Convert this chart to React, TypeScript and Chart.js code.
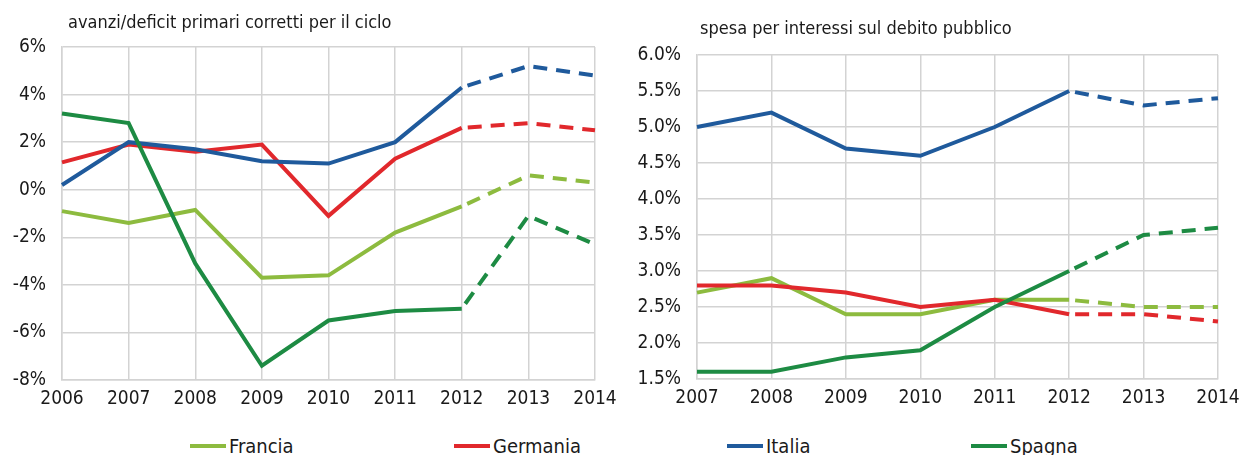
import React, { useEffect, useRef } from "react";
import { Chart, registerables } from "chart.js";
Chart.register(...registerables);

// ---- data ----
const leftYears = ["2006", "2007", "2008", "2009", "2010", "2011", "2012", "2013", "2014"];
const leftFrancia = [-0.9, -1.4, -0.85, -3.7, -3.6, -1.8, -0.7, 0.6, 0.3];
const leftGermania = [1.15, 1.9, 1.6, 1.9, -1.1, 1.3, 2.6, 2.8, 2.5];
const leftItalia = [0.2, 2.0, 1.7, 1.2, 1.1, 2.0, 4.3, 5.2, 4.8];
const leftSpagna = [3.2, 2.8, -3.1, -7.4, -5.5, -5.1, -5.0, -1.1, -2.3];

const rightYears = ["2007", "2008", "2009", "2010", "2011", "2012", "2013", "2014"];
const rightFrancia = [2.7, 2.9, 2.4, 2.4, 2.6, 2.6, 2.5, 2.5];
const rightGermania = [2.8, 2.8, 2.7, 2.5, 2.6, 2.4, 2.4, 2.3];
const rightItalia = [5.0, 5.2, 4.7, 4.6, 5.0, 5.5, 5.3, 5.4];
const rightSpagna = [1.6, 1.6, 1.8, 1.9, 2.5, 3.0, 3.5, 3.6];

const seriesNames = ["Francia", "Germania", "Italia", "Spagna"];
const forecastFrom = "2012";

const leftTitle = "avanzi/deficit primari corretti per il ciclo";
const rightTitle = "spesa per interessi sul debito pubblico";

// ---- styles ----
const COLORS = ["#8DBB3F", "#E1282C", "#1F5A9C", "#1D8B43"];
const ORDERS = [3, 2, 1, 0];
const FONT = '"DejaVu Sans Condensed", "Liberation Sans Narrow", sans-serif';
const GRID = "#D3D3D3";

function makeChart(
  canvas: HTMLCanvasElement,
  labels: string[],
  data: number[][],
  yMin: number,
  yMax: number,
  step: number,
  fmt: (v: number) => string,
  yWidth: number,
  padding: { top: number; right: number; bottom: number; left: number }
) {
  const fIdx = labels.indexOf(forecastFrom);
  return new Chart(canvas, {
    type: "line",
    data: {
      labels,
      datasets: data.map((d, i) => ({
        label: seriesNames[i],
        data: d,
        borderColor: COLORS[i],
        backgroundColor: COLORS[i],
        borderWidth: 4,
        pointRadius: 0,
        tension: 0,
        order: ORDERS[i],
        borderCapStyle: "butt" as const,
        segment: {
          borderDash: (ctx: any) => (ctx.p0DataIndex >= fIdx ? [14, 9] : undefined),
          borderDashOffset: (ctx: any) => (ctx.p0DataIndex >= fIdx ? -6 : 0),
        },
      })),
    },
    options: {
      responsive: false,
      devicePixelRatio: 1,
      animation: false,
      layout: { padding },
      plugins: { legend: { display: false }, title: { display: false }, tooltip: { enabled: false } },
      scales: {
        x: {
          grid: { color: GRID, lineWidth: 1.5, drawTicks: false },
          border: { color: GRID, width: 1.5 },
          ticks: { color: "#1a1a1a", font: { family: FONT, size: 19 }, padding: 8, maxRotation: 0, autoSkip: false },
          afterFit: (s: any) => {
            s.height = 30;
            s.paddingLeft = 0;
            s.paddingRight = 0;
          },
        },
        y: {
          min: yMin,
          max: yMax,
          grid: { color: GRID, lineWidth: 1.5, drawTicks: false },
          border: { color: GRID, width: 1.5 },
          ticks: {
            stepSize: step,
            color: "#1a1a1a",
            font: { family: FONT, size: 19 },
            padding: 16,
            callback: (v: any) => fmt(Number(v)),
          },
          afterFit: (s: any) => {
            s.width = yWidth;
            s.paddingTop = 0;
            s.paddingBottom = 0;
          },
        },
      },
    },
  });
}

export default function App() {
  const leftRef = useRef<HTMLCanvasElement>(null);
  const rightRef = useRef<HTMLCanvasElement>(null);

  useEffect(() => {
    const c1 = makeChart(
      leftRef.current!,
      leftYears,
      [leftFrancia, leftGermania, leftItalia, leftSpagna],
      -8,
      6,
      2,
      (v) => `${Math.round(v)}%`,
      62,
      { top: 47, right: 25, bottom: 15, left: 0 }
    );
    const c2 = makeChart(
      rightRef.current!,
      rightYears,
      [rightFrancia, rightGermania, rightItalia, rightSpagna],
      1.5,
      6,
      0.5,
      (v) => `${v.toFixed(1)}%`,
      77,
      { top: 55, right: 23, bottom: 16, left: 0 }
    );
    return () => {
      c1.destroy();
      c2.destroy();
    };
  }, []);

  const legendLeft = [190, 454, 727, 971];

  return (
    <div style={{ position: "absolute", left: 0, top: 0, width: 1241, height: 455, background: "#fff", overflow: "hidden", fontFamily: FONT }}>
      <canvas ref={leftRef} width={620} height={425} style={{ position: "absolute", left: 0, top: 0, width: 620, height: 425 }} />
      <canvas ref={rightRef} width={621} height={425} style={{ position: "absolute", left: 620, top: 0, width: 621, height: 425 }} />
      <div style={{ position: "absolute", left: 68, top: 11, fontSize: 18, color: "#1a1a1a", whiteSpace: "nowrap" }}>{leftTitle}</div>
      <div style={{ position: "absolute", left: 700, top: 17, fontSize: 18, color: "#1a1a1a", whiteSpace: "nowrap" }}>{rightTitle}</div>
      {seriesNames.map((n, i) => (
        <div key={n} style={{ position: "absolute", left: legendLeft[i], top: 434, display: "flex", alignItems: "center", whiteSpace: "nowrap" }}>
          <span style={{ display: "inline-block", width: 36, height: 4, background: COLORS[i], marginRight: 3 }} />
          <span style={{ fontSize: 20, color: "#1a1a1a", lineHeight: "24px" }}>{n}</span>
        </div>
      ))}
    </div>
  );
}
